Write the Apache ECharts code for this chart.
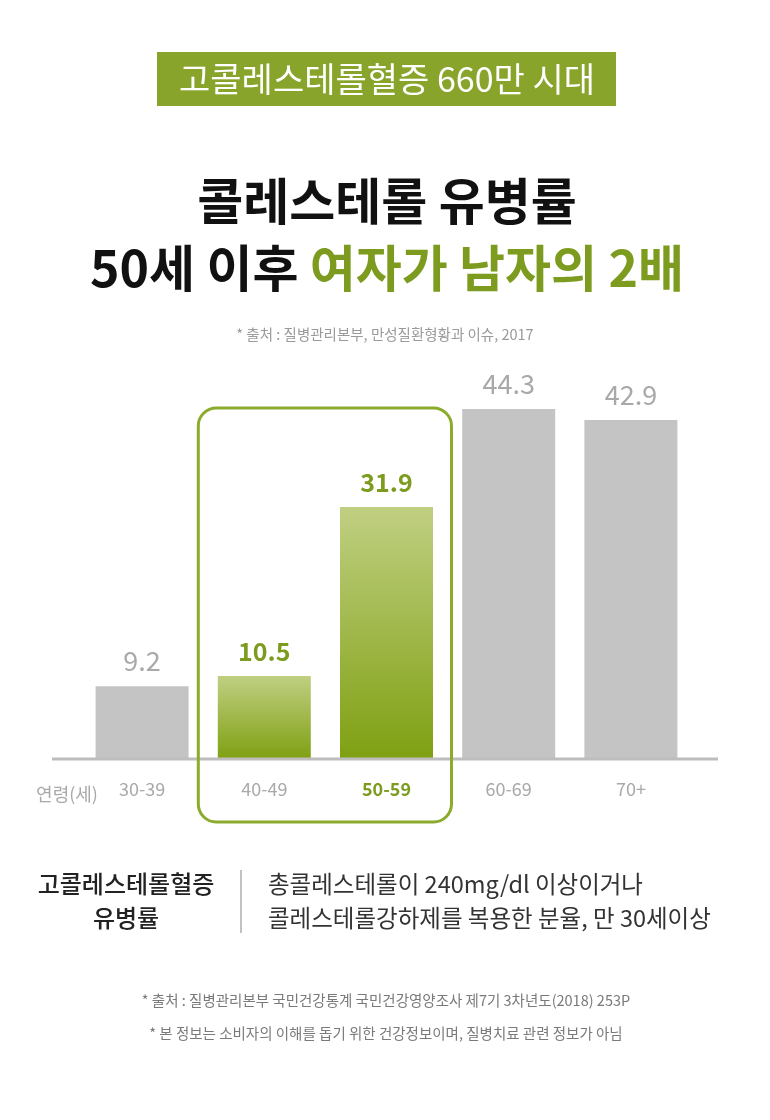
<!DOCTYPE html>
<html>
<head>
<meta charset="utf-8">
<style>
html,body{margin:0;padding:0;background:#fff;}
#chart{width:770px;height:1120px;}
</style>
<script src="https://cdn.jsdelivr.net/npm/echarts@6/dist/echarts.min.js"></script>
</head>
<body>
<div id="chart"></div>
<script>
// ---- data ----
var categories = ['30-39', '40-49', '50-59', '60-69', '70+'];
var values = [9.2, 10.5, 31.9, 44.3, 42.9];
var highlighted = [false, true, true, false, false];
var bannerText = '고콜레스테롤혈증 660만 시대';
var titleLine1 = '콜레스테롤 유병률';
var titleLine2a = '50세 이후 ';
var titleLine2b = '여자가 남자의 2배';
var sourceTop = '* 출처 : 질병관리본부, 만성질환형황과 이슈, 2017';
var axisName = '연령(세)';
var defTitle = ['고콜레스테롤혈증', '유병률'];
var defText = ['총콜레스테롤이 240mg/dl 이상이거나', '콜레스테롤강하제를 복용한 분율, 만 30세이상'];
var footer = ['* 출처 : 질병관리본부 국민건강통계 국민건강영양조사 제7기 3차년도(2018) 253P',
              '* 본 정보는 소비자의 이해를 돕기 위한 건강정보이며, 질병치료 관련 정보가 아님'];

var FONT = '"Noto Sans CJK KR", "Noto Sans", sans-serif';
var GREEN = '#7d9c1f';
var GRAY_BAR = '#c4c4c4';
var GRAY_TXT = '#a9a9a9';

var chart = echarts.init(document.getElementById('chart'), null, {renderer: 'canvas'});

var greenGrad = new echarts.graphic.LinearGradient(0, 0, 0, 1, [
  {offset: 0, color: '#c0cf82'},
  {offset: 1, color: '#7fa012'}
]);

var seriesData = values.map(function (v, i) {
  return {
    value: v,
    itemStyle: {color: highlighted[i] ? greenGrad : GRAY_BAR},
    label: highlighted[i]
      ? {color: GREEN, fontWeight: 'bold', fontSize: 25}
      : {color: GRAY_TXT, fontWeight: 'normal', fontSize: 27}
  };
});

var option = {
  backgroundColor: '#ffffff',
  animation: false,
  grid: {left: 81, right: 78, top: 364, bottom: 361, containLabel: false},
  xAxis: {
    type: 'category',
    data: categories,
    axisLine: {show: false},
    axisTick: {show: false},
    axisLabel: {
      margin: 21,
      fontFamily: FONT,
      fontSize: 18,
      color: GRAY_TXT,
      formatter: function (v, i) {
        return highlighted[i] && i === 2 ? '{hl|' + v + '}' : v;
      },
      rich: {hl: {color: GREEN, fontWeight: 'bold', fontSize: 18, fontFamily: FONT}}
    }
  },
  yAxis: {
    type: 'value', min: 0, max: 50,
    show: false,
    splitLine: {show: false}
  },
  series: [{
    type: 'bar',
    data: seriesData,
    barWidth: 93,
    label: {
      show: true,
      position: 'top',
      distance: 12,
      fontFamily: FONT
    }
  }]
};
chart.setOption(option);

// decorations placed from the chart's own coordinates
var c1 = chart.convertToPixel({seriesIndex: 0}, [1, 0]);
var c2 = chart.convertToPixel({seriesIndex: 0}, [2, 0]);
var baseY = c1[1];

chart.setOption({
  graphic: [
    // banner
    {type: 'rect', shape: {x: 157, y: 52, width: 459, height: 54}, style: {fill: '#88a42a'}},
    {type: 'text', x: 387, y: 79, style: {text: bannerText, fill: '#ffffff', font: 'normal 34px ' + FONT, align: 'center', verticalAlign: 'middle'}},
    // main title
    {type: 'text', x: 387, y: 201, style: {text: titleLine1, fill: '#111', font: 'bold 50px ' + FONT, align: 'center', verticalAlign: 'middle'}},
    {type: 'text', x: 387, y: 268, style: {
      text: '{a|' + titleLine2a + '}{b|' + titleLine2b + '}',
      align: 'center', verticalAlign: 'middle',
      rich: {
        a: {fill: '#111', font: 'bold 50px ' + FONT},
        b: {fill: GREEN, font: 'bold 50px ' + FONT}
      }
    }},
    {type: 'text', x: 385, y: 334, style: {text: sourceTop, fill: '#9a9a9a', font: 'normal 14.5px ' + FONT, align: 'center', verticalAlign: 'middle'}},
    // baseline
    {type: 'line', shape: {x1: 52, y1: baseY, x2: 718, y2: baseY}, style: {stroke: '#bdbdbd', lineWidth: 3}, z: 10},
    // highlight box
    {type: 'rect', shape: {x: c1[0] - 66, y: 408, width: (c2[0] + 65) - (c1[0] - 66), height: 414, r: 18},
     style: {fill: 'none', stroke: '#8aab2e', lineWidth: 3}, z: 11},
    // axis name
    {type: 'text', x: 67, y: 794, style: {text: axisName, fill: GRAY_TXT, font: 'normal 18px ' + FONT, align: 'center', verticalAlign: 'middle'}},
    // definition block
    {type: 'text', x: 126, y: 884, style: {text: defTitle[0], fill: '#222', font: '500 24px ' + FONT, align: 'center', verticalAlign: 'middle'}},
    {type: 'text', x: 126, y: 918, style: {text: defTitle[1], fill: '#222', font: '500 24px ' + FONT, align: 'center', verticalAlign: 'middle'}},
    {type: 'line', shape: {x1: 241, y1: 870, x2: 241, y2: 933}, style: {stroke: '#c2c2c2', lineWidth: 2}},
    {type: 'text', x: 268, y: 884, style: {text: defText[0], fill: '#333', font: 'normal 23.5px ' + FONT, align: 'left', verticalAlign: 'middle'}},
    {type: 'text', x: 268, y: 918, style: {text: defText[1], fill: '#333', font: 'normal 23.5px ' + FONT, align: 'left', verticalAlign: 'middle'}},
    // footer
    {type: 'text', x: 386, y: 1000, style: {text: footer[0], fill: '#7a7a7a', font: 'normal 14.5px ' + FONT, align: 'center', verticalAlign: 'middle'}},
    {type: 'text', x: 386, y: 1033, style: {text: footer[1], fill: '#7a7a7a', font: 'normal 14.5px ' + FONT, align: 'center', verticalAlign: 'middle'}}
  ]
});
</script>
</body>
</html>
